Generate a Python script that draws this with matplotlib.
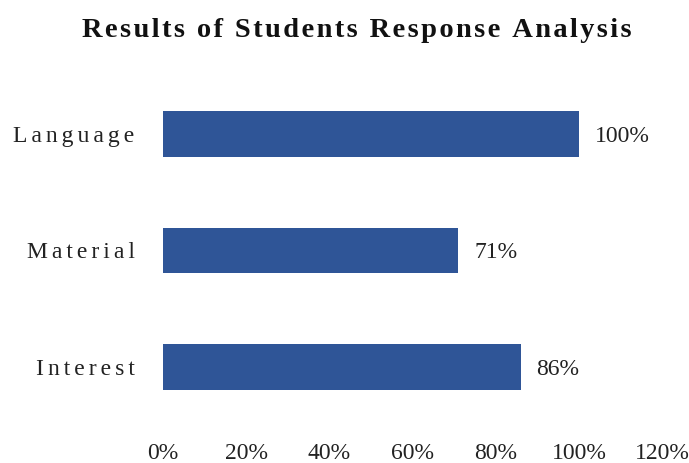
import matplotlib
matplotlib.use("Agg")
import matplotlib.pyplot as plt

plt.rcParams['font.family'] = ['Liberation Serif', 'DejaVu Serif']

categories = ['Interest', 'Material', 'Language']
values = [86, 71, 100]
xticks = [0, 20, 40, 60, 80, 100, 120]
title = 'Results of Students Response Analysis'


def spaced(s, sep='\u200a'):
    # fake letter spacing with hair spaces
    return sep.join(s)


fig = plt.figure(figsize=(6.89, 4.63), dpi=100)
ax = fig.add_axes([0.2366, 0.082, 0.7245, 0.754])

bars = ax.barh(range(len(categories)), values, height=0.39, color='#2F5597')
ax.set_xlim(0, 120)
ax.set_ylim(-0.5, len(categories) - 0.5)

ax.set_yticks(range(len(categories)))
ax.set_yticklabels([spaced(c, '\u200a\u200a') for c in categories], fontsize=17, color='#222222')
ax.set_xticks(xticks)
ax.set_xticklabels([f'{t}%' for t in xticks], fontsize=17, color='#222222')
ax.tick_params(axis='both', length=0)
ax.tick_params(axis='x', pad=13)
ax.tick_params(axis='y', pad=20.5)

for s in ax.spines.values():
    s.set_visible(False)

for b, v in zip(bars, values):
    ax.text(b.get_width() + 3.8, b.get_y() + b.get_height() / 2, f'{v}%',
            va='center_baseline', ha='left', fontsize=17, color='#222222')

fig.text(0.518, 0.935, spaced(title), ha='center', va='center',
         fontsize=20.5, fontweight='bold', color='#111111')

fig.savefig('out.png', dpi=100)
